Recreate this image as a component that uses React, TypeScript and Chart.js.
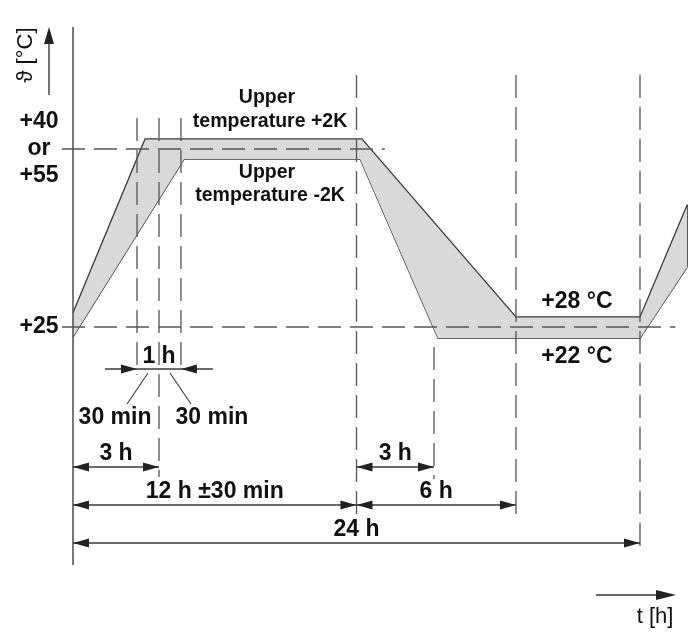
import React, { useEffect, useRef } from 'react';
import { Chart, registerables } from 'chart.js';

Chart.register(...registerables);

// temperature profile (schematic, not to scale): time in h, temperature in °C
const upperTimes = [0, 3.05, 12.23, 18.75, 24, 26];
const upperTemps = [27.4, 56.7, 56.7, 26.7, 26.7, 45.6];
const lowerTimes = [0, 4.7, 12.15, 15.45, 24, 26];
const lowerTemps = [23.3, 53.3, 53.3, 23.1, 23.1, 35.1];

// dashed reference levels
const refTemps = [55, 25];
const refEnds = [13.2, 25.5];

// vertical dashed time marks
const guideTimes = [2.71, 3.64, 4.57, 12, 15.28, 18.75, 24];

// dimension arrows
const spanStarts = [0, 0, 0, 12, 12];
const spanEnds = [3.64, 12, 24, 15.28, 18.75];
const spanLabels = ['3 h', '12 h ±30 min', '24 h', '3 h', '6 h'];

const yTickLabels = ['+40', 'or', '+55'];
const baseLabel = '+25';
const bandLabels = ['+28 °C', '+22 °C'];

// layout (pixels)
const GUIDE_TOP = [118, 118, 118, 75, 347, 75, 75];
const GUIDE_BOTTOM = [375, 477, 367, 517, 479, 517, 555];
const SPAN_ROWS = [467, 505, 543, 467, 505];
const BOLD = 'bold 23px "Liberation Sans", Arial, sans-serif';
const BOLD_SMALL = 'bold 19.5px "Liberation Sans", Arial, sans-serif';
const REGULAR = '22px "Liberation Sans", Arial, sans-serif';

const LINE = '#3a3a3a';
const DASH = '#555555';
const TEXT = '#111111';

const notesPlugin = {
  id: 'profileNotes',
  afterDatasetsDraw(chart: any) {
    const { ctx } = chart;
    const X = (t: number) => chart.scales.x.getPixelForValue(t);
    const Y = (v: number) => chart.scales.y.getPixelForValue(v);
    const x0 = X(0);

    const seg = (x1: number, y1: number, x2: number, y2: number) => {
      ctx.beginPath();
      ctx.moveTo(x1, y1);
      ctx.lineTo(x2, y2);
      ctx.stroke();
    };
    // horizontal arrow head, dir 1 = pointing right
    const head = (x: number, y: number, dir: number, len = 16, half = 4.5) => {
      ctx.beginPath();
      ctx.moveTo(x, y);
      ctx.lineTo(x - dir * len, y - half);
      ctx.lineTo(x - dir * len, y + half);
      ctx.closePath();
      ctx.fill();
    };
    const text = (s: string, x: number, y: number, font = BOLD) => {
      ctx.font = font;
      ctx.fillText(s, x, y);
    };

    ctx.save();
    ctx.lineCap = 'butt';

    // y axis
    ctx.strokeStyle = '#555';
    ctx.lineWidth = 1.6;
    seg(x0, 27, x0, 565);

    // dashed reference lines
    ctx.setLineDash([23, 9]);
    ctx.strokeStyle = DASH;
    ctx.lineWidth = 1.3;
    refTemps.forEach((v, i) => seg(x0 - 11, Y(v), X(refEnds[i]), Y(v)));
    guideTimes.forEach((t, i) => seg(X(t), GUIDE_TOP[i], X(t), GUIDE_BOTTOM[i]));
    ctx.setLineDash([]);

    // dimension arrows
    ctx.strokeStyle = LINE;
    ctx.fillStyle = '#222';
    ctx.lineWidth = 1.3;
    ctx.textAlign = 'center';
    ctx.textBaseline = 'middle';
    spanStarts.forEach((s, i) => {
      const a = X(s);
      const b = X(spanEnds[i]);
      const y = SPAN_ROWS[i];
      seg(a, y, b, y);
      head(a, y, -1);
      head(b, y, 1);
    });

    // 1 h detail
    const h1 = X(guideTimes[0]);
    const h2 = X(guideTimes[2]);
    const hm = X(guideTimes[1]);
    seg(h1 - 32, 369, h2 + 32, 369);
    head(h1, 369, 1);
    head(h2, 369, -1);
    ctx.lineWidth = 1.1;
    seg((h1 + hm) / 2, 373, (h1 + hm) / 2 - 21, 404);
    seg((h2 + hm) / 2, 373, (h2 + hm) / 2 + 21, 404);

    // axis arrows
    ctx.lineWidth = 1.4;
    seg(x0 - 24, 95, x0 - 24, 40);
    ctx.beginPath();
    ctx.moveTo(x0 - 24, 27);
    ctx.lineTo(x0 - 29, 44);
    ctx.lineTo(x0 - 19, 44);
    ctx.closePath();
    ctx.fill();
    seg(596, 595, 660, 595);
    head(676, 595, 1, 20, 5);

    // texts
    ctx.fillStyle = TEXT;
    spanStarts.forEach((s, i) => {
      text(spanLabels[i], (X(s) + X(spanEnds[i])) / 2, SPAN_ROWS[i] - 13);
    });
    text('1 h', hm, 357);
    text('30 min', h1 - 22, 418);
    text('30 min', h2 + 31, 418);

    const yl = x0 - 34;
    text(yTickLabels[0], yl, Y(refTemps[0]) - 27);
    text(yTickLabels[1], yl, Y(refTemps[0]));
    text(yTickLabels[2], yl, Y(refTemps[0]) + 27);
    text(baseLabel, yl, Y(refTemps[1]));

    const ux = X(8.34);
    text('Upper', ux - 3, Y(upperTemps[1]) - 41, BOLD_SMALL);
    text('temperature +2K', ux, Y(upperTemps[1]) - 17, BOLD_SMALL);
    text('Upper', ux - 3, Y(lowerTemps[1]) + 14, BOLD_SMALL);
    text('temperature -2K', ux, Y(lowerTemps[1]) + 37, BOLD_SMALL);

    const bx = X(21.33);
    text(bandLabels[0], bx, Y(upperTemps[4]) - 15);
    text(bandLabels[1], bx, Y(lowerTemps[4]) + 18);

    text('t [h]', 655, 617, REGULAR);

    ctx.save();
    ctx.translate(x0 - 47, 55);
    ctx.rotate(-Math.PI / 2);
    text('ϑ [°C]', 0, 0, REGULAR);
    ctx.restore();

    ctx.restore();
  },
};

const App: React.FC = () => {
  const canvasRef = useRef<HTMLCanvasElement | null>(null);

  useEffect(() => {
    document.body.style.margin = '0';
    if (!canvasRef.current) return;
    const ctx = canvasRef.current.getContext('2d');
    if (!ctx) return;

    const upper = upperTimes.map((t, i) => ({ x: t, y: upperTemps[i] }));
    const lower = lowerTimes.map((t, i) => ({ x: t, y: lowerTemps[i] }));
    const lastT = upperTimes[upperTimes.length - 1];
    const edge = [
      { x: lastT, y: upperTemps[upperTemps.length - 1] },
      { x: lastT, y: lowerTemps[lowerTemps.length - 1] },
    ];

    const chart = new Chart(ctx, {
      type: 'line',
      data: {
        datasets: [
          {
            data: upper,
            borderColor: LINE,
            borderWidth: 1.3,
            backgroundColor: '#d9d9d9',
            fill: '+1',
            pointRadius: 0,
          },
          {
            data: lower,
            borderColor: LINE,
            borderWidth: 1.3,
            fill: false,
            pointRadius: 0,
          },
          {
            data: edge,
            borderColor: LINE,
            borderWidth: 1.3,
            fill: false,
            pointRadius: 0,
          },
        ],
      },
      options: {
        responsive: false,
        animation: false,
        events: [],
        layout: { padding: 0 },
        plugins: {
          legend: { display: false },
          tooltip: { enabled: false },
        },
        scales: {
          x: { type: 'linear', display: false, min: -3.09, max: 26.54 },
          y: { type: 'linear', display: false, min: -28.43, max: 80.11 },
        },
        elements: { line: { tension: 0 } },
      },
      plugins: [notesPlugin],
    });

    return () => {
      chart.destroy();
    };
  }, []);

  return (
    <div style={{ width: 700, height: 644, background: '#fff' }}>
      <canvas ref={canvasRef} width={700} height={644} />
    </div>
  );
};

export default App;
